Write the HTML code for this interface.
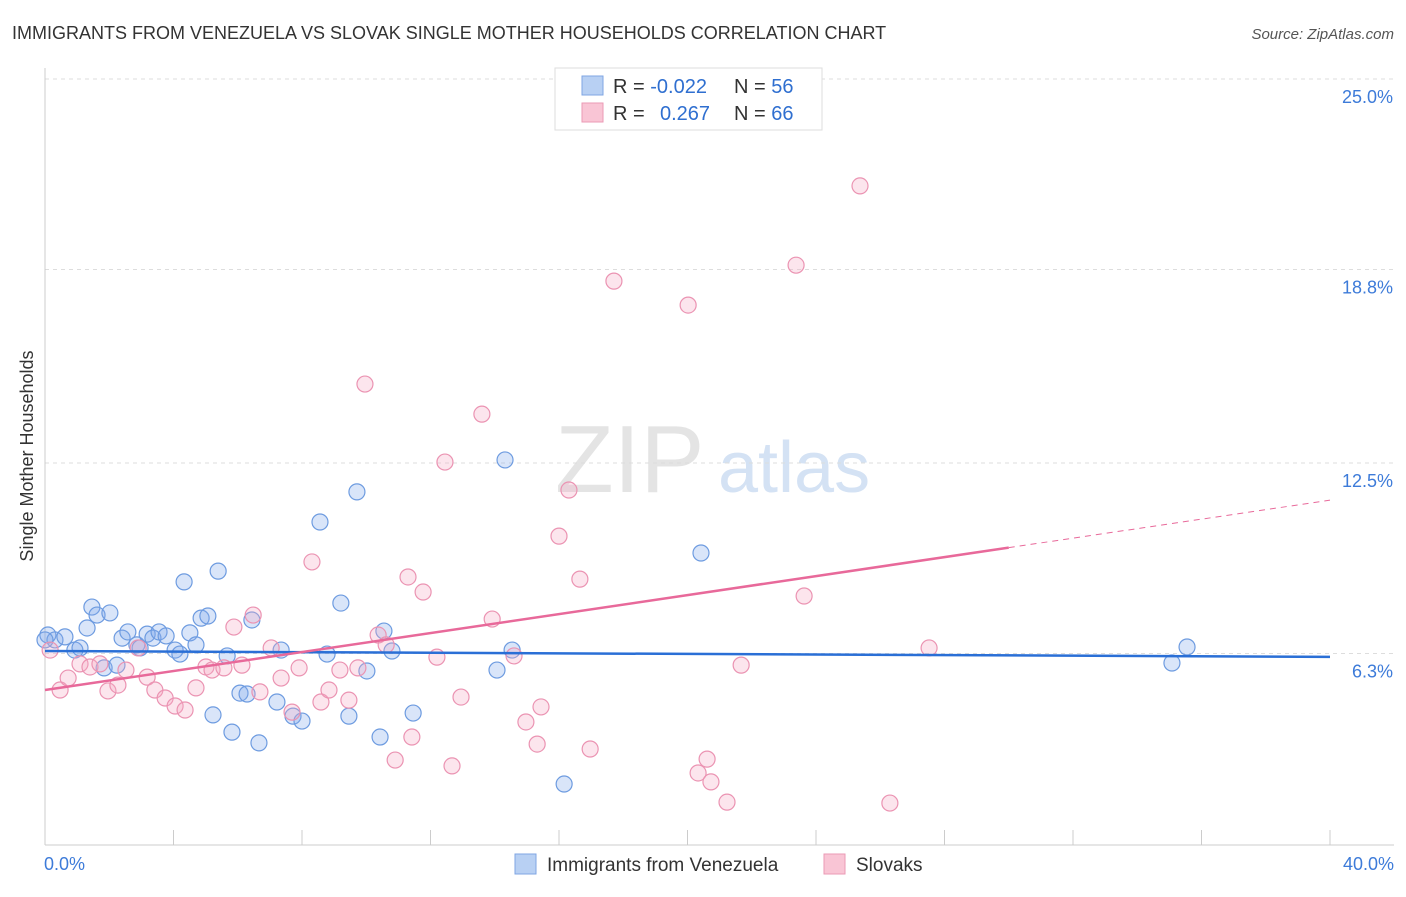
<!DOCTYPE html>
<html><head><meta charset="utf-8"><style>
body{margin:0;background:#fff;font-family:"Liberation Sans",sans-serif;}
svg text{font-family:"Liberation Sans",sans-serif;}
</style></head><body>
<svg id="chart" width="1406" height="892">
<text x="12" y="39" font-size="18" fill="#333">IMMIGRANTS FROM VENEZUELA VS SLOVAK SINGLE MOTHER HOUSEHOLDS CORRELATION CHART</text>
<text x="1394" y="39" font-size="15" fill="#555" font-style="italic" text-anchor="end">Source: ZipAtlas.com</text>
<text x="33" y="456" font-size="18" fill="#333" text-anchor="middle" transform="rotate(-90 33 456)">Single Mother Households</text>
<text x="555" y="492" font-size="96" fill="#e4e4e4" font-family="Liberation Serif">ZIP</text>
<text x="718" y="492" font-size="72" fill="#d4e2f4">atlas</text>
<g id="grid"></g><g id="axes"></g><g id="pts"></g><g id="trend"></g>
<g>
<rect x="555" y="68" width="267" height="62" fill="#fff" stroke="#ddd"/>
<rect x="582" y="76" width="21" height="19" fill="#b8d0f3" stroke="#7fa6e3"/>
<rect x="582" y="103" width="21" height="19" fill="#f9c5d5" stroke="#eb9ab5"/>
<text x="613" y="93" font-size="20" fill="#333">R = <tspan fill="#2f6fd0">-0.022</tspan></text>
<text x="734" y="93" font-size="20" fill="#333">N = <tspan fill="#2f6fd0">56</tspan></text>
<text x="613" y="120" font-size="20" fill="#333">R = <tspan fill="#2f6fd0" x="660">0.267</tspan></text>
<text x="734" y="120" font-size="20" fill="#333">N = <tspan fill="#2f6fd0">66</tspan></text>
</g>
<g>
<rect x="515" y="854" width="21" height="20" fill="#b8d0f3" stroke="#7fa6e3"/>
<text x="547" y="871" font-size="19" fill="#333">Immigrants from Venezuela</text>
<rect x="824" y="854" width="21" height="20" fill="#f9c5d5" stroke="#eb9ab5"/>
<text x="856" y="871" font-size="19" fill="#333">Slovaks</text>
</g>
</svg>
<script>
const yTicks=[25.0,18.8,12.5,6.3];
const yTickLabels=["25.0%","18.8%","12.5%","6.3%"];
const xRange=[0,40];
const xTickLabels=["0.0%","40.0%"];
const blueX=[0.09,0.31,0.62,0.93,1.09,1.31,1.46,1.62,2.02,1.84,2.24,2.40,2.58,2.86,2.96,3.18,3.36,3.55,3.77,4.05,4.20,4.33,4.51,4.70,4.86,5.07,5.23,5.39,5.67,5.82,6.07,6.29,6.44,6.66,7.22,7.35,7.72,8.00,8.56,8.78,9.21,9.46,9.71,10.02,10.43,10.55,10.80,11.46,14.07,14.32,14.54,16.16,20.42,35.08,35.55,0.0];
const blueY=[6.90,6.74,6.84,6.41,6.48,7.13,7.81,7.55,7.62,5.83,5.92,6.80,7.00,6.58,6.48,6.93,6.80,7.00,6.87,6.41,6.28,8.63,6.97,6.58,7.45,7.52,4.30,8.98,6.22,3.74,5.01,4.98,7.39,3.39,4.72,6.41,4.26,4.10,10.58,6.28,7.94,4.26,11.56,5.73,3.58,7.03,6.38,4.36,5.76,12.60,6.41,2.05,9.57,5.99,6.51,6.74];
const pinkX=[0.16,0.47,0.72,1.09,1.40,1.71,1.96,2.27,2.52,2.90,3.18,3.42,3.74,4.05,4.36,4.70,5.01,5.20,5.57,5.88,6.13,6.48,6.69,7.04,7.35,7.69,7.91,8.31,8.59,8.84,9.18,9.46,9.74,9.96,10.37,10.62,10.90,11.30,11.42,11.77,12.20,12.45,12.67,12.95,13.60,13.92,14.60,14.97,15.32,15.44,16.00,16.31,16.65,16.97,17.71,20.02,20.33,20.61,20.73,21.23,21.67,23.38,23.63,25.37,26.30,27.52];
const pinkY=[6.41,5.11,5.50,5.96,5.86,5.96,5.08,5.27,5.76,6.48,5.53,5.11,4.85,4.59,4.46,5.18,5.86,5.76,5.83,7.16,5.92,7.55,5.05,6.48,5.50,4.39,5.83,9.28,4.72,5.11,5.76,4.78,5.83,15.07,6.90,6.58,2.83,8.79,3.58,8.30,6.18,12.53,2.64,4.88,14.09,7.42,6.22,4.07,3.35,4.56,10.12,11.62,8.72,3.19,18.42,17.64,2.41,2.86,2.12,1.46,5.92,18.94,8.17,21.52,1.43,6.48];
const blueTrend=[6.38,6.19];
const pinkTrend=[5.11,11.29];
const pinkSolidEnd=30.0;

const NS="http://www.w3.org/2000/svg";
const X0=45,X1=1330,Ybase=847,pxPerPct=30.72;
function sx(v){return X0+(v-xRange[0])/(xRange[1]-xRange[0])*(X1-X0);}
function sy(v){return Ybase-v*pxPerPct;}
function mk(tag,attrs,parent){const e=document.createElementNS(NS,tag);for(const k in attrs)e.setAttribute(k,attrs[k]);document.getElementById(parent).appendChild(e);return e;}

yTicks.forEach((t,i)=>{
  const l=mk('line',{x1:X0,x2:1394,y1:sy(t),y2:sy(t),stroke:'#ddd','stroke-dasharray':'4,4'},'grid');
  
  
  const tx=mk('text',{x:1393,y:sy(t)+24,'font-size':18,fill:'#3d7bd9','text-anchor':'end'},'grid');
  tx.textContent=yTickLabels[i];
  
  
});
const ya=mk('line',{x1:X0,x2:X0,y1:68,y2:845,stroke:'#ccc'},'axes');


const xa=mk('line',{x1:X0,x2:1394,y1:845,y2:845,stroke:'#ccc'},'axes');


for(let v=0;v<=40;v+=4){
  const t=mk('line',{x1:sx(v),x2:sx(v),y1:830,y2:845,stroke:'#ccc'},'axes');
  
  
}
[[0,'start',44],[40,'end',1394]].forEach((a,i)=>{
  const t=mk('text',{x:a[2],y:870,'font-size':18,fill:'#3d7bd9','text-anchor':a[1]},'axes');
  t.textContent=xTickLabels[i];
  
  
});
blueX.forEach((v,i)=>{
  const c=mk('circle',{cx:sx(v),cy:sy(blueY[i]),r:8,fill:'rgba(130,170,235,0.3)',stroke:'#6d9be0','stroke-width':1.2},'pts');
  
  
});
pinkX.forEach((v,i)=>{
  const c=mk('circle',{cx:sx(v),cy:sy(pinkY[i]),r:8,fill:'rgba(245,170,195,0.3)',stroke:'#eb93b2','stroke-width':1.2},'pts');
  
  
});
const bt=mk('line',{x1:sx(0),y1:sy(blueTrend[0]),x2:sx(40),y2:sy(blueTrend[1]),stroke:'#2a6fd6','stroke-width':2.5},'trend');


const pe=pinkTrend[0]+(pinkTrend[1]-pinkTrend[0])*pinkSolidEnd/40;
const pt=mk('line',{x1:sx(0),y1:sy(pinkTrend[0]),x2:sx(pinkSolidEnd),y2:sy(pe),stroke:'#e8699a','stroke-width':2.5},'trend');


const pd=mk('line',{x1:sx(pinkSolidEnd),y1:sy(pe),x2:sx(40),y2:sy(pinkTrend[1]),stroke:'#e8699a','stroke-width':1,'stroke-dasharray':'6,5'},'trend');


</script>
</body></html>
